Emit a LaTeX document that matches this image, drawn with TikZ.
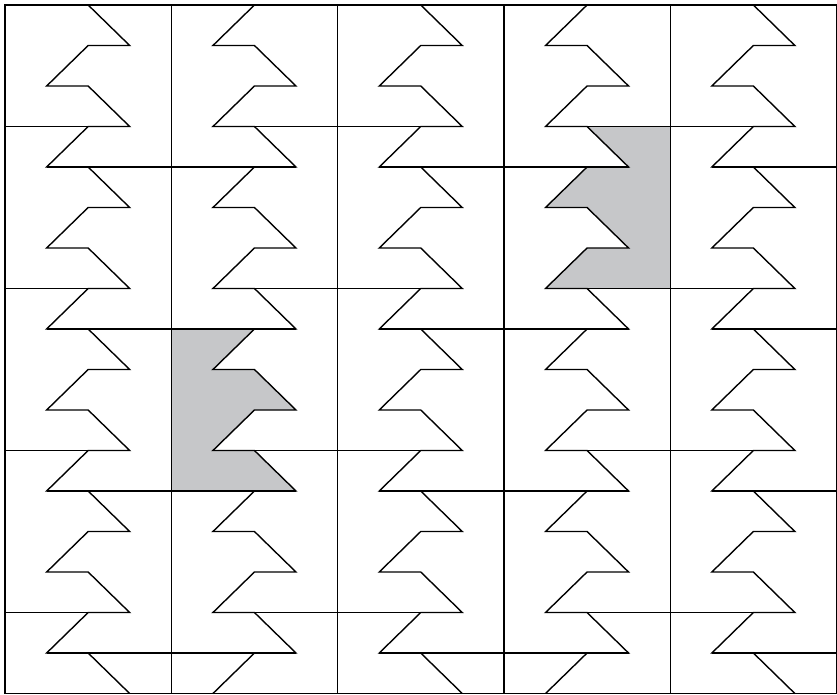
\documentclass[tikz,border=0pt]{standalone}
\usepackage{xcolor}
\usepackage{tikz}
\definecolor{tilegray}{RGB}{198,199,201}
\newcommand{\colw}{166.3}
\newcommand{\tipd}{41.5}

\begin{document}
\begin{tikzpicture}[
  x=1pt, y=-1pt,
  declare function={mid(\p)=5+166.3*\p+83.15; lev(\p)=5+40.5*\p;},
  edge/.style={line width=1.4pt, line join=miter},
  tile/.style={fill=tilegray, draw=none}
]
  \useasboundingbox (0,0) rectangle (837,695);

  % Shaded tiles
  \fill[tile] ({mid(3)},{lev(3)}) -- ({mid(3)+\tipd},{lev(4)}) -- ({mid(3)},{lev(4)})
    -- ({mid(3)-\tipd},{lev(5)}) -- ({mid(3)},{lev(5)}) -- ({mid(3)+\tipd},{lev(6)})
    -- ({mid(3)},{lev(6)}) -- ({mid(3)-\tipd},{lev(7)}) -- ({5+4*\colw},{lev(7)})
    -- ({5+4*\colw},{lev(3)}) -- cycle;
  \fill[tile] ({5+\colw},{lev(8)}) -- ({mid(1)},{lev(8)}) -- ({mid(1)-\tipd},{lev(9)})
    -- ({mid(1)},{lev(9)}) -- ({mid(1)+\tipd},{lev(10)}) -- ({mid(1)},{lev(10)})
    -- ({mid(1)-\tipd},{lev(11)}) -- ({mid(1)},{lev(11)}) -- ({mid(1)+\tipd},{lev(12)})
    -- ({5+\colw},{lev(12)}) -- cycle;

  % Zigzag in every column (mirrored from one column to the next)
  \foreach \col/\s in {0/1, 1/-1, 2/1, 3/-1, 4/1}{
    \draw[edge] ({mid(\col)},{lev(0)})
      \foreach \k in {1,...,16}{
        -- ({mid(\col)+(\s)*\tipd*(2*mod(\k,2)-1)},{lev(\k)}) -- ({mid(\col)},{lev(\k)})
      }
      -- ({mid(\col)+(\s)*\tipd},{lev(17)});
  }

  % Horizontal cuts
  \foreach \k in {3,7,11,15}{
    \draw[edge] (5,{lev(\k)}) -- ({mid(0)+\tipd},{lev(\k)});
    \draw[edge] ({mid(1)-\tipd},{lev(\k)}) -- ({mid(2)+\tipd},{lev(\k)});
    \draw[edge] ({mid(3)-\tipd},{lev(\k)}) -- ({mid(4)+\tipd},{lev(\k)});
  }
  \foreach \k in {4,8,12,16}{
    \draw[edge] ({mid(0)-\tipd},{lev(\k)}) -- ({mid(1)+\tipd},{lev(\k)});
    \draw[edge] ({mid(2)-\tipd},{lev(\k)}) -- ({mid(3)+\tipd},{lev(\k)});
    \draw[edge] ({mid(4)-\tipd},{lev(\k)}) -- (836.5,{lev(\k)});
  }

  % Column borders and frame
  \foreach \col in {1,...,4}
    \draw[edge] ({5+\col*\colw},{lev(0)}) -- ({5+\col*\colw},{lev(17)});
  \draw[edge] (5,{lev(0)}) rectangle (836.5,{lev(17)});
\end{tikzpicture}
\end{document}
